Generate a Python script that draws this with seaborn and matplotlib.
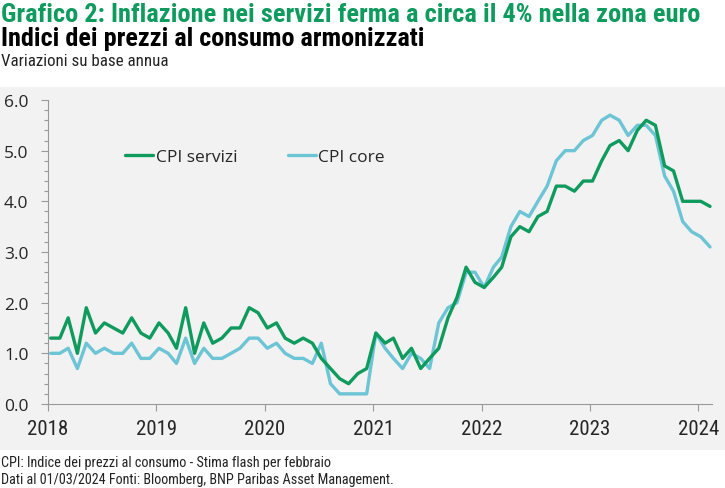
import numpy as np
import pandas as pd
import seaborn as sns
import matplotlib
matplotlib.use('Agg')
import matplotlib.pyplot as plt
from matplotlib import font_manager
from matplotlib.patches import Rectangle
from matplotlib.lines import Line2D

# monthly data, Jan 2018 - Feb 2024 (yoy %)
months = pd.date_range('2018-01-01', '2024-02-01', freq='MS') + pd.Timedelta(days=9)

cpi_servizi = [
    1.3, 1.3, 1.7, 1.0, 1.9, 1.4, 1.6, 1.5, 1.4, 1.7, 1.4, 1.3,
    1.6, 1.4, 1.1, 1.9, 1.0, 1.6, 1.2, 1.3, 1.5, 1.5, 1.9, 1.8,
    1.5, 1.6, 1.3, 1.2, 1.3, 1.2, 0.9, 0.7, 0.5, 0.4, 0.6, 0.7,
    1.4, 1.2, 1.3, 0.9, 1.1, 0.7, 0.9, 1.1, 1.7, 2.1, 2.7, 2.4,
    2.3, 2.5, 2.7, 3.3, 3.5, 3.4, 3.7, 3.8, 4.3, 4.3, 4.2, 4.4,
    4.4, 4.8, 5.1, 5.2, 5.0, 5.4, 5.6, 5.5, 4.7, 4.6, 4.0, 4.0,
    4.0, 3.9,
]
cpi_core = [
    1.0, 1.0, 1.1, 0.7, 1.2, 1.0, 1.1, 1.0, 1.0, 1.2, 0.9, 0.9,
    1.1, 1.0, 0.8, 1.3, 0.8, 1.1, 0.9, 0.9, 1.0, 1.1, 1.3, 1.3,
    1.1, 1.2, 1.0, 0.9, 0.9, 0.8, 1.2, 0.4, 0.2, 0.2, 0.2, 0.2,
    1.4, 1.1, 0.9, 0.7, 1.0, 0.9, 0.7, 1.6, 1.9, 2.0, 2.6, 2.6,
    2.3, 2.7, 2.9, 3.5, 3.8, 3.7, 4.0, 4.3, 4.8, 5.0, 5.0, 5.2,
    5.3, 5.6, 5.7, 5.6, 5.3, 5.5, 5.5, 5.3, 4.5, 4.2, 3.6, 3.4,
    3.3, 3.1,
]
year_ticks = [2018, 2019, 2020, 2021, 2022, 2023, 2024]

GREEN = '#0f9a5e'
CYAN = '#6cc4d5'
PANEL = '#f2f2f2'

sns.set_theme(style='white')

names = {f.name for f in font_manager.fontManager.ttflist}
narrow = 'DejaVu Sans'
for cand in ['Roboto Condensed', 'Liberation Sans Narrow', 'Open Sans Condensed', 'Roboto']:
    if cand in names:
        narrow = cand
        break
plain = 'Open Sans' if 'Open Sans' in names else 'DejaVu Sans'
plt.rcParams['font.family'] = [narrow, 'DejaVu Sans']

df = pd.DataFrame({'date': months, 'CPI servizi': cpi_servizi, 'CPI core': cpi_core})
long = df.melt(id_vars='date', var_name='serie', value_name='val')

fig = plt.figure(figsize=(7.25, 4.89), dpi=100)
fig.patch.set_facecolor('white')
bg = Rectangle((0, 0.078), 1, 0.742, transform=fig.transFigure,
               facecolor=PANEL, edgecolor='none', zorder=-10)
fig.patches.append(bg)

ax = fig.add_axes([0.0662, 0.1718, 0.916, 0.6217])
ax.set_facecolor('none')
sns.lineplot(data=long, x='date', y='val', hue='serie',
             palette={'CPI servizi': GREEN, 'CPI core': CYAN},
             hue_order=['CPI core', 'CPI servizi'],
             linewidth=2.4, ax=ax, legend=False)
ax.set_xlabel('')
ax.set_ylabel('')

ax.set_ylim(0, 6)
ax.set_xlim(pd.Timestamp('2018-01-01'), pd.Timestamp('2024-02-17'))
ax.set_yticks(np.arange(0, 6.01, 1.0))
ax.set_yticks(np.arange(0, 6.01, 0.2), minor=True)
ax.set_yticklabels([f'{v:.1f}' for v in np.arange(0, 6.01, 1.0)],
                   fontsize=12.5, family=plain)
ax.set_xticks([pd.Timestamp(f'{y}-01-01') for y in year_ticks])
ax.set_xticklabels([str(y) for y in year_ticks], fontsize=15)
ax.tick_params(axis='both', which='both', direction='out', color='#999999',
               bottom=True, left=True)
ax.tick_params(axis='y', which='major', length=5, width=0.8, pad=9)
ax.tick_params(axis='y', which='minor', length=3, width=0.8)
ax.tick_params(axis='x', which='major', length=5, width=0.8, pad=6)
ax.grid(False)
for s in ['top', 'right']:
    ax.spines[s].set_visible(False)
for s in ['left', 'bottom']:
    ax.spines[s].set_color('#999999')
    ax.spines[s].set_linewidth(0.8)

handles = [Line2D([], [], color=GREEN, lw=2.4), Line2D([], [], color=CYAN, lw=2.4)]
ax.legend(handles, ['CPI servizi', 'CPI core'], ncol=2, frameon=False,
          loc='upper left', bbox_to_anchor=(0.093, 0.89),
          handlelength=1.6, handletextpad=0.15, columnspacing=2.9,
          prop={'family': plain, 'size': 12.5})

fig.text(0.002, 0.993, 'Grafico 2: Inflazione nei servizi ferma a circa il 4% nella zona euro',
         color=GREEN, fontsize=19, fontweight='bold', va='top', ha='left')
fig.text(0.002, 0.945, 'Indici dei prezzi al consumo armonizzati',
         color='black', fontsize=18.9, fontweight='bold', va='top', ha='left')
fig.text(0.002, 0.89, 'Variazioni su base annua',
         color='#222222', fontsize=12.2, va='top', ha='left')
fig.text(0.002, 0.053, 'CPI: Indice dei prezzi al consumo - Stima flash per febbraio',
         color='#222222', fontsize=10.3, va='center', ha='left')
fig.text(0.002, 0.018, 'Dati al 01/03/2024 Fonti: Bloomberg, BNP Paribas Asset Management.',
         color='#222222', fontsize=10.2, va='center', ha='left')

fig.savefig('out.png', dpi=100, facecolor='white')
